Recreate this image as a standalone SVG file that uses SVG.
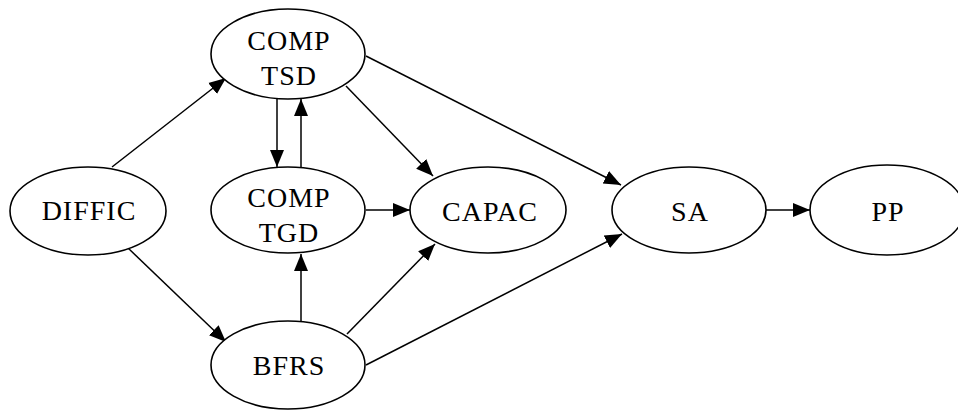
<svg xmlns="http://www.w3.org/2000/svg" width="958" height="410" viewBox="0 0 958 410">
  <style>
    .node ellipse { fill: #ffffff; stroke: #000000; stroke-width: 1.6; }
    .node text { font-family: "Liberation Serif", "Times New Roman", serif; font-size: 28px; letter-spacing: 1px; fill: #000000; text-anchor: middle; }
    .edges line { stroke: #000000; stroke-width: 1.5; marker-end: url(#arrow); }
  </style>
  <defs>
    <marker id="arrow" markerWidth="18" markerHeight="16" refX="17" refY="8" orient="auto" markerUnits="userSpaceOnUse">
      <path d="M0,1 L17,8 L0,15 z" fill="#000000"/>
    </marker>
  </defs>
  <rect width="958" height="410" fill="#ffffff"/>

  <g class="edges" id="edges">
    <line x1="112" y1="167" x2="226" y2="78"/>
    <line x1="128" y1="248" x2="226" y2="342"/>
    <line x1="277" y1="99" x2="277" y2="167"/>
    <line x1="301" y1="167" x2="301" y2="99"/>
    <line x1="346" y1="86" x2="433" y2="176"/>
    <line x1="366" y1="56" x2="621" y2="185"/>
    <line x1="366" y1="210" x2="410" y2="210"/>
    <line x1="301" y1="321" x2="301" y2="254"/>
    <line x1="347" y1="334" x2="435" y2="244"/>
    <line x1="366" y1="365" x2="622" y2="234"/>
    <line x1="766" y1="210" x2="810" y2="210"/>
  </g>

  <g class="node" id="node-diffic">
    <ellipse cx="88" cy="211" rx="78" ry="44"/>
    <text x="89" y="220">DIFFIC</text>
  </g>
  <g class="node" id="node-comp-tsd">
    <ellipse cx="288" cy="54" rx="77" ry="45"/>
    <text x="289" y="50">COMP</text>
    <text x="289" y="85">TSD</text>
  </g>
  <g class="node" id="node-comp-tgd">
    <ellipse cx="288" cy="210" rx="77" ry="43"/>
    <text x="289" y="207">COMP</text>
    <text x="289" y="242">TGD</text>
  </g>
  <g class="node" id="node-bfrs">
    <ellipse cx="288" cy="365" rx="77" ry="44"/>
    <text x="289" y="375">BFRS</text>
  </g>
  <g class="node" id="node-capac">
    <ellipse cx="488" cy="210" rx="78" ry="43"/>
    <text x="490" y="221">CAPAC</text>
  </g>
  <g class="node" id="node-sa">
    <ellipse cx="689" cy="210" rx="77" ry="43"/>
    <text x="690" y="221">SA</text>
  </g>
  <g class="node" id="node-pp">
    <ellipse cx="887" cy="210" rx="77" ry="45"/>
    <text x="888" y="221">PP</text>
  </g>
</svg>
